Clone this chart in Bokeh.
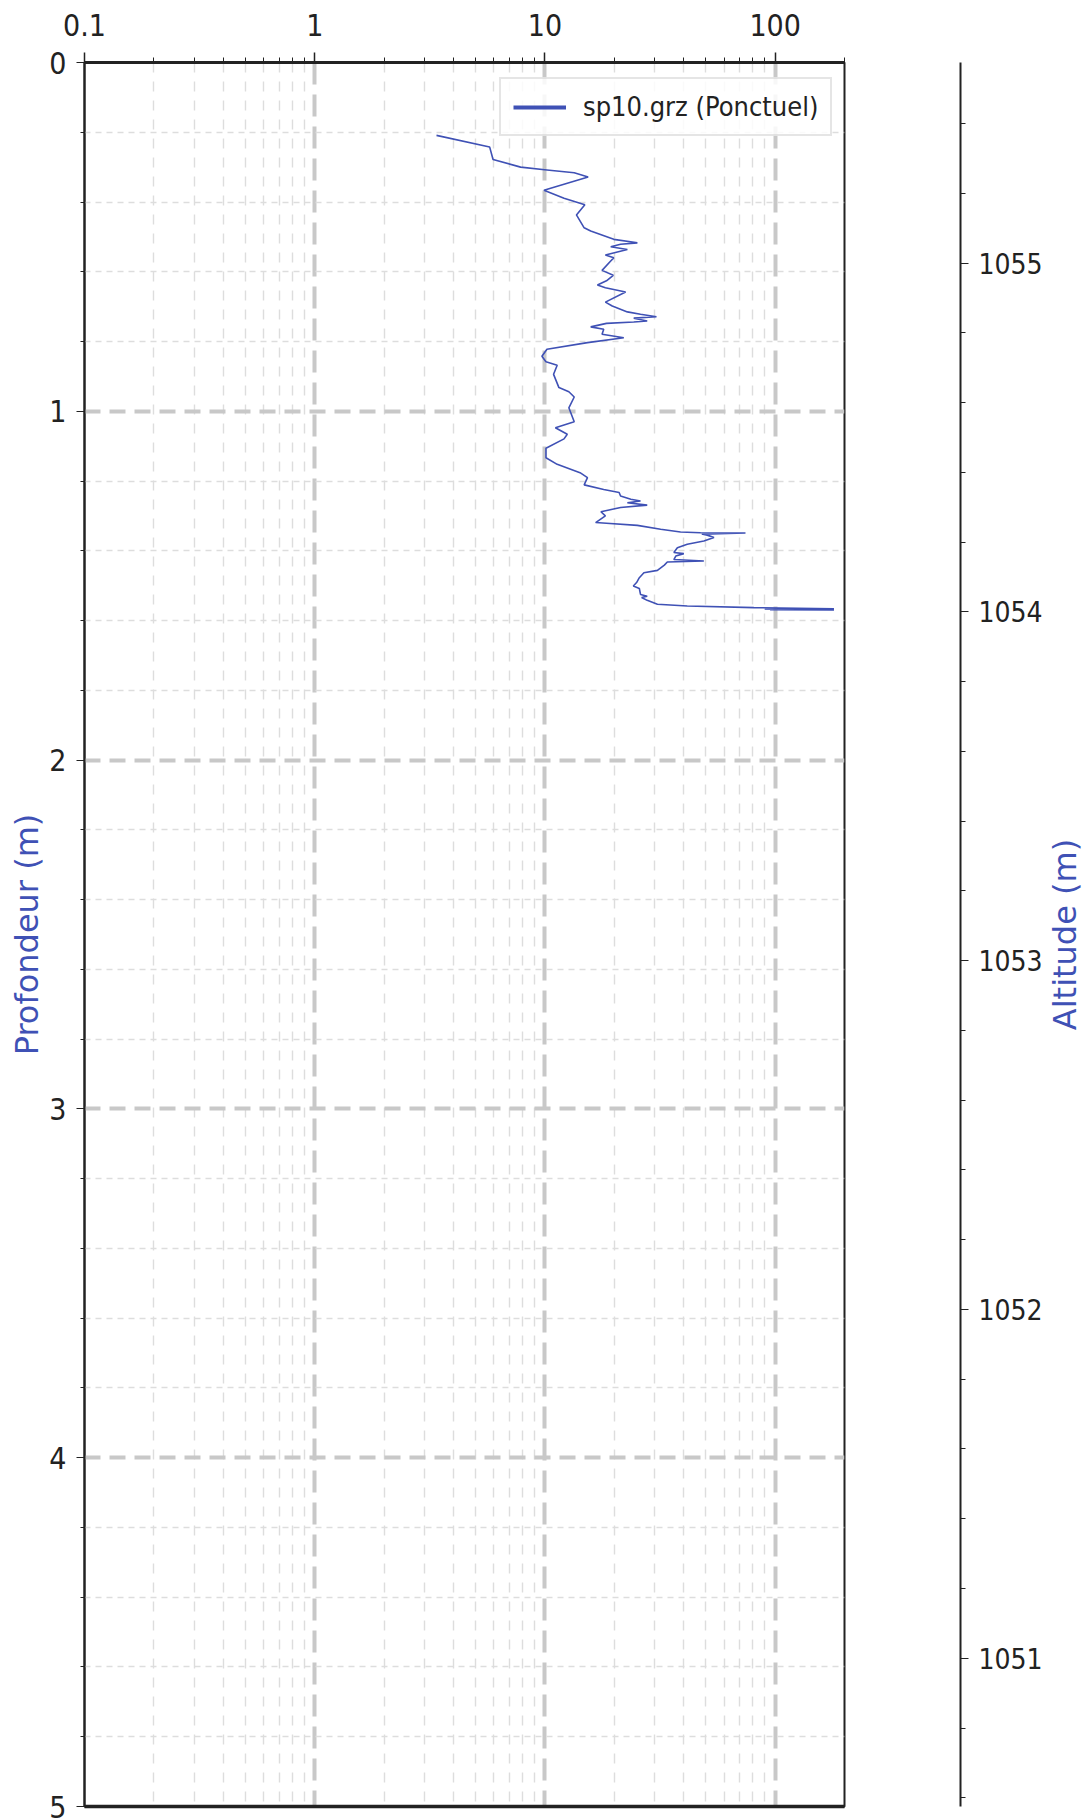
from bokeh.plotting import figure
from bokeh.models import (Range1d, FixedTicker, CustomJSTickFormatter, Legend,
                          LegendItem, ColumnDataSource, LogAxis)
from bokeh.layouts import row
from bokeh.embed import file_html
from bokeh.resources import INLINE

# ---------------- data ----------------
depth_m = [0.209, 0.242, 0.278, 0.300, 0.308, 0.316, 0.328, 0.366, 0.389, 0.408,
           0.437, 0.474, 0.483, 0.507, 0.517, 0.521, 0.528, 0.536, 0.552, 0.560,
           0.569, 0.596, 0.610, 0.626, 0.638, 0.646, 0.658, 0.687, 0.698, 0.715,
           0.722, 0.729, 0.733, 0.741, 0.744, 0.748, 0.758, 0.765, 0.779, 0.789,
           0.803, 0.822, 0.842, 0.858, 0.868, 0.894, 0.932, 0.944, 0.959, 0.990,
           1.030, 1.047, 1.066, 1.079, 1.106, 1.133, 1.152, 1.176, 1.190, 1.211,
           1.224, 1.233, 1.243, 1.252, 1.257, 1.262, 1.269, 1.276, 1.288, 1.300,
           1.319, 1.321, 1.327, 1.338, 1.346, 1.348, 1.349, 1.352, 1.355, 1.362,
           1.372, 1.381, 1.391, 1.405, 1.408, 1.415, 1.425, 1.429, 1.432, 1.441,
           1.456, 1.463, 1.477, 1.491, 1.501, 1.508, 1.525, 1.530, 1.534, 1.542,
           1.553, 1.558, 1.563, 1.566, 1.567, 1.568, 1.569, 1.570]
resistance = [3.38, 5.75, 5.95, 7.84, 10.2, 13.4, 15.4, 9.9, 12.1, 14.9,
              13.7, 14.8, 15.8, 19.9, 25.2, 21.3, 19.3, 22.8, 18.3, 19.9,
              19.3, 17.7, 19.8, 18.5, 16.9, 18.3, 22.4, 18.3, 19.6, 22.8,
              26.0, 30.5, 24.3, 27.8, 24.3, 18.5, 15.8, 18.0, 17.7, 22.0,
              15.3, 10.2, 9.7, 10.1, 11.3, 10.9, 11.5, 12.7, 13.4, 12.7,
              13.4, 11.1, 12.5, 12.1, 10.1, 10.1, 11.3, 14.2, 15.3, 14.8,
              18.0, 21.0, 21.3, 23.6, 26.0, 22.8, 27.8, 21.3, 17.5, 18.3,
              16.6, 18.5, 25.2, 31.8, 38.8, 47.4, 74.3, 48.0, 50.7, 54.2,
              49.0, 41.5, 37.6, 36.3, 40.1, 37.0, 36.3, 49.0, 34.0, 33.0,
              30.8, 26.9, 25.7, 25.0, 24.2, 25.7, 26.0, 27.8, 26.3, 27.8,
              30.8, 41.5, 80.8, 180.0, 90.0, 180.0, 95.0, 180.0]
series_label = "sp10.grz (Ponctuel)"

x_major = [0.1, 1, 10, 100]
x_minor = [m * 10.0 ** e for e in (-1, 0, 1) for m in range(2, 10)] + [200]
depth_major = [0, 1, 2, 3, 4, 5]
depth_minor = [round(0.2 * i, 1) for i in range(26) if i % 5]
alt_top = 1055.575
alt_major = [1051, 1052, 1053, 1054, 1055]
alt_minor = [round(1050.6 + 0.2 * i, 1) for i in range(25)
             if abs(round(1050.6 + 0.2 * i, 1) - round(1050.6 + 0.2 * i)) > 0.05]

# ---------------- styles ----------------
BLUE = "#3f51b5"
DARK = "#222222"
TICK_FONT = "'DejaVu Sans Condensed', 'DejaVu Sans'"
TICK_SIZE = "30px"
LABEL_FONT = "DejaVu Sans"
LABEL_SIZE = "32px"
FRAME_H = 1744
TOP = 62
BOTTOM = 12


def style_axis(ax, tick_out, minor_out, width, size=TICK_SIZE):
    ax.major_label_text_font = TICK_FONT
    ax.major_label_text_font_size = size
    ax.major_label_text_color = DARK
    ax.major_tick_out = tick_out
    ax.major_tick_in = 0
    ax.minor_tick_out = minor_out
    ax.minor_tick_in = 0
    ax.axis_line_width = width
    ax.axis_line_color = DARK
    ax.major_tick_line_color = DARK
    ax.minor_tick_line_color = DARK


p = figure(x_axis_type="log", x_axis_location="above",
           x_range=Range1d(0.1, 200), y_range=Range1d(5, 0),
           frame_width=760, frame_height=FRAME_H,
           min_border_left=84, min_border_right=2,
           min_border_top=TOP, min_border_bottom=BOTTOM,
           output_backend="svg", toolbar_location=None)
p.background_fill_color = "white"
p.border_fill_color = "white"
p.outline_line_color = DARK
p.outline_line_width = 2

src = ColumnDataSource(dict(x=resistance, y=depth_m))
p.line("x", "y", source=src, line_color=BLUE, line_width=1.6)
legend_r = p.line(x=[float("nan")], y=[float("nan")], line_color=BLUE, line_width=4)

# x axis (top, log)
xa = p.xaxis[0]
xa.ticker = FixedTicker(ticks=x_major, minor_ticks=x_minor)
xa.formatter = CustomJSTickFormatter(code="return tick >= 1 ? tick.toFixed(0) : tick.toString();")
style_axis(xa, 10, 5, 3)
xa.major_label_standoff = 17
xa.major_tick_line_width = 1.5

# bottom spine (thick line, no ticks or labels)
bottom_spine = LogAxis(ticker=FixedTicker(ticks=[]), major_label_text_font_size="0px",
                       major_tick_out=0, major_tick_in=0, minor_tick_out=0, minor_tick_in=0,
                       major_label_standoff=0, axis_line_width=3.5, axis_line_color=DARK)
p.add_layout(bottom_spine, "below")

# y axis (left, depth)
ya = p.yaxis[0]
ya.ticker = FixedTicker(ticks=depth_major, minor_ticks=depth_minor)
style_axis(ya, 8, 4, 2)
ya.major_label_standoff = 10
ya.axis_label = "Profondeur (m)"
ya.axis_label_text_font = LABEL_FONT
ya.axis_label_text_font_size = LABEL_SIZE
ya.axis_label_text_font_style = "normal"
ya.axis_label_text_color = BLUE
ya.axis_label_standoff = 0

# grids
p.xgrid.grid_line_color = "#c8c8c8"
p.xgrid.grid_line_width = 4
p.xgrid.grid_line_dash = "22 10"
p.xgrid.minor_grid_line_color = "#dddddd"
p.xgrid.minor_grid_line_width = 1.4
p.xgrid.minor_grid_line_dash = "10 9"
p.ygrid.grid_line_color = "#c8c8c8"
p.ygrid.grid_line_width = 4
p.ygrid.grid_line_dash = "16 9"
p.ygrid.minor_grid_line_color = "#dddddd"
p.ygrid.minor_grid_line_width = 1.4
p.ygrid.minor_grid_line_dash = "6 5"

legend = Legend(items=[LegendItem(label=series_label, renderers=[legend_r])],
                location=(415, 1670), margin=0, padding=12, spacing=0,
                glyph_width=53, glyph_height=30, label_standoff=17,
                label_text_font=TICK_FONT, label_text_font_size="27px",
                label_text_color=DARK,
                border_line_color="#cccccc", border_line_width=2,
                background_fill_color="white", background_fill_alpha=0.85)
p.add_layout(legend, "center")

# ---------------- right altitude axis ----------------
p2 = figure(x_range=Range1d(0, 1), y_range=Range1d(alt_top - 5, alt_top),
            y_axis_location="right",
            frame_width=114, frame_height=FRAME_H,
            min_border_left=0, min_border_right=0,
            min_border_top=TOP, min_border_bottom=BOTTOM,
            output_backend="svg", toolbar_location=None)
p2.xaxis.visible = False
p2.grid.visible = False
p2.outline_line_color = None
p2.background_fill_color = "white"
p2.border_fill_color = "white"
ra = p2.yaxis[0]
ra.ticker = FixedTicker(ticks=alt_major, minor_ticks=alt_minor)
style_axis(ra, 8, 5, 2, size="28px")
ra.major_label_standoff = 10

# ---------------- altitude axis title (reads bottom-to-top) ----------------
p3 = figure(x_range=Range1d(0, 1), y_range=Range1d(alt_top - 5, alt_top),
            frame_width=1, frame_height=FRAME_H,
            min_border_left=0, min_border_right=0,
            min_border_top=TOP, min_border_bottom=BOTTOM,
            output_backend="svg", toolbar_location=None)
p3.margin = (0, 0, 0, -3)
p3.xaxis.visible = False
p3.grid.visible = False
p3.outline_line_color = None
p3.background_fill_color = None
p3.border_fill_color = None
ta = p3.yaxis[0]
ta.ticker = FixedTicker(ticks=[])
ta.major_label_text_font_size = "0px"
ta.major_tick_out = 0
ta.major_tick_in = 0
ta.minor_tick_out = 0
ta.minor_tick_in = 0
ta.major_label_standoff = 0
ta.axis_line_color = None
ta.axis_label = "Altitude (m)"
ta.axis_label_text_font = LABEL_FONT
ta.axis_label_text_font_size = LABEL_SIZE
ta.axis_label_text_font_style = "normal"
ta.axis_label_text_color = BLUE
ta.axis_label_standoff = 0

layout = row(p, p2, p3)
open("out.html", "w").write(file_html(layout, INLINE))
